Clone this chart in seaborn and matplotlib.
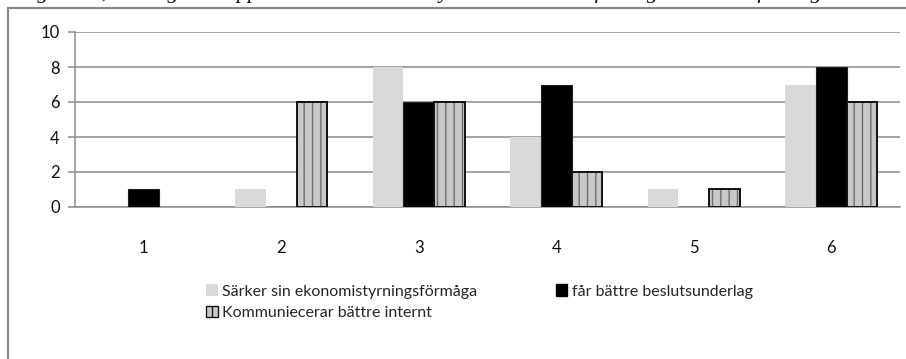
import matplotlib
matplotlib.use("Agg")
import matplotlib.pyplot as plt
from matplotlib.patches import Rectangle
import seaborn as sns
import pandas as pd

# Survey answers per question alternative
categories = ["1", "2", "3", "4", "5", "6"]
series_names = [
    "Särker sin ekonomistyrningsförmåga",
    "får bättre beslutsunderlag",
    "Kommuniecerar bättre internt",
]
ekonomistyrning = [0, 1, 8, 4, 1, 7]
beslutsunderlag = [1, 0, 6, 7, 0, 8]
kommunicerar = [0, 6, 6, 2, 1, 6]
y_ticks = [0, 2, 4, 6, 8, 10]
caption = "Fråga nr 8, o och g Hur upplever att beslutsanalysen leder till att företaget ökar sin förmåga att ta till vara på ny kunskap"

rows = []
for name, vals in zip(series_names, [ekonomistyrning, beslutsunderlag, kommunicerar]):
    for c, v in zip(categories, vals):
        rows.append({"kategori": c, "serie": name, "antal": v})
df = pd.DataFrame(rows)

sns.set_theme(style="white")
plt.rcParams["font.family"] = ["Lato", "DejaVu Sans"]

fig = plt.figure(figsize=(9.06, 3.59), dpi=100)
ax = fig.add_axes([75 / 906, 1 - 207 / 359, 825 / 906, 175 / 359])

palette = ["#d9d9d9", "#000000", "#c8c8c8"]
sns.barplot(data=df, x="kategori", y="antal", hue="serie", order=categories,
            hue_order=series_names, palette=palette, width=0.67, gap=0,
            saturation=1, edgecolor="none", linewidth=0, ax=ax, legend=False,
            zorder=3)

grid_c = "#8c8c8c"
n = len(categories)
for i, p in enumerate(ax.patches):
    s = i // n
    if s == 1:
        p.set_edgecolor("#222222")
        p.set_linewidth(0.8)
    elif s == 2:
        # striped fill plus dark outline
        p.set_hatch("||")
        p.set_edgecolor("#6e6e6e")
        p.set_linewidth(0)
        if p.get_height() > 0:
            ax.add_patch(Rectangle(p.get_xy(), p.get_width(), p.get_height(),
                                   fill=False, edgecolor="#111111", lw=1.4, zorder=4))

ax.set_ylim(0, 10)
ax.set_xlim(-0.5, n - 0.5)
ax.set_yticks(y_ticks)
ax.set_yticklabels([str(t) for t in y_ticks], fontsize=12, color="#111111")
ax.yaxis.grid(True, color=grid_c, lw=1.1, zorder=0)
ax.set_axisbelow(True)

ax.set_xticks(range(n))
ax.set_xticklabels(categories, fontsize=12, color="#111111")
ax.tick_params(axis="x", which="major", length=0, pad=24)
ax.set_xticks([k - 0.5 for k in range(n + 1)], minor=True)
ax.tick_params(axis="x", which="minor", length=5, width=1.1, color=grid_c, direction="out")
ax.tick_params(axis="y", length=5, width=1.1, color=grid_c, direction="out", left=True, pad=6)
ax.set_xlabel("")
ax.set_ylabel("")

for side in ["top", "right"]:
    ax.spines[side].set_visible(False)
for side in ["left", "bottom"]:
    ax.spines[side].set_color(grid_c)
    ax.spines[side].set_linewidth(1.1)

# Legend below the plot area, filled row by row
handles = [
    Rectangle((0, 0), 1, 1, facecolor=palette[0], edgecolor="none"),
    Rectangle((0, 0), 1, 1, facecolor="#000000", edgecolor="#000000"),
    Rectangle((0, 0), 1, 1, facecolor=palette[2], edgecolor="#111111", hatch="||", lw=1),
]
order = [0, 2, 1]
leg = fig.legend([handles[k] for k in order], [series_names[k] for k in order],
                 loc="upper left",
                 bbox_to_anchor=(200 / 906, 1 - 278 / 359), ncol=2,
                 frameon=False, fontsize=11.5, handlelength=0.7, handleheight=0.7,
                 handletextpad=0.3, columnspacing=4.9, labelspacing=0.45,
                 borderaxespad=0)

# Outer chart frame
fig.patches.append(Rectangle((8 / 906, -0.1), 1.2, 1 - 8 / 359 + 0.1,
                             transform=fig.transFigure, fill=False,
                             edgecolor="#8a8a8a", lw=1.6))

# Caption line running along the top edge
fig.text(4 / 906, 1 + 2 / 359, caption, ha="left", va="baseline",
         fontsize=16, style="italic",
         family=["Liberation Serif", "DejaVu Serif"], color="#111111")

fig.savefig("out.png", dpi=100)
